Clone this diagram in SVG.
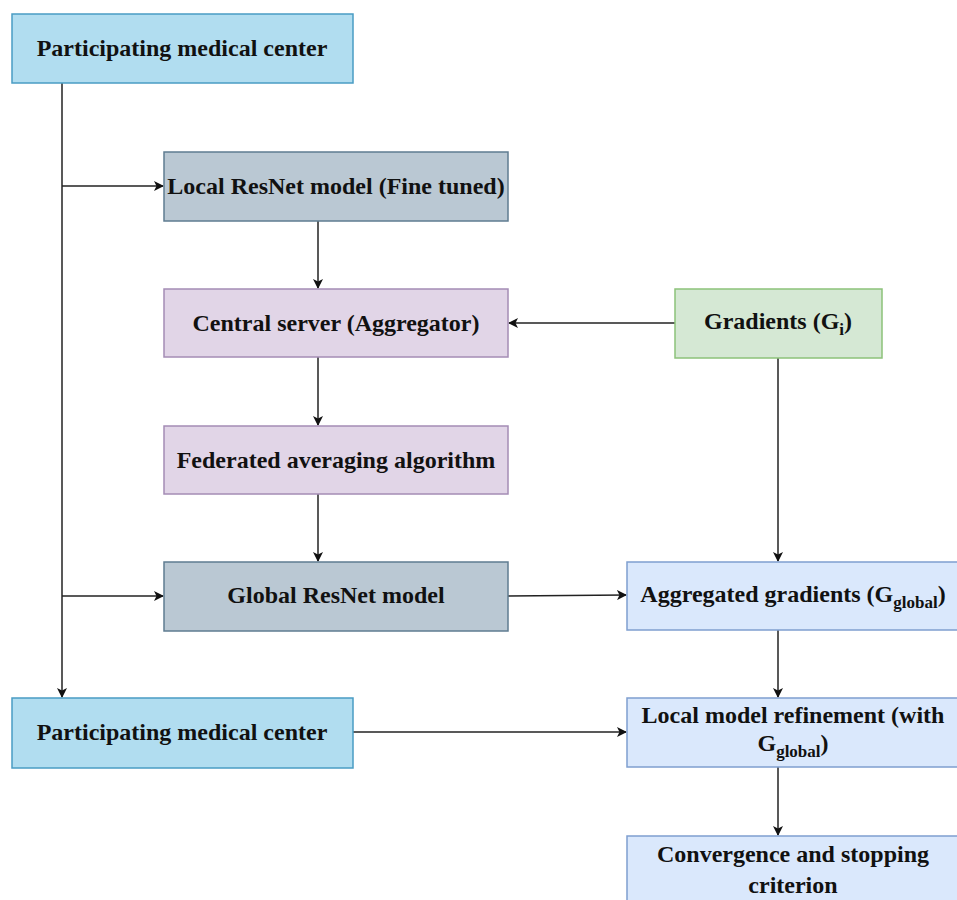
<svg xmlns="http://www.w3.org/2000/svg" width="957" height="900" viewBox="0 0 957 900">
<style>
text{font-family:"Liberation Serif","Times New Roman",serif;font-weight:bold;font-size:24px;fill:#111;text-anchor:middle}
.pmc{fill:#b1ddf0;stroke:#4a9cc4;stroke-width:1.5}
.res{fill:#bac8d3;stroke:#5f7c91;stroke-width:1.5}
.srv{fill:#e1d5e7;stroke:#a48cb5;stroke-width:1.5}
.grd{fill:#d5e8d4;stroke:#8cc27a;stroke-width:1.5}
.agg{fill:#dae8fc;stroke:#7f9fcf;stroke-width:1.5}
.sub{font-size:17px}
.c{fill:none;stroke:#222;stroke-width:1.5;marker-end:url(#ah)}
</style>
<defs>
<marker id="ah" markerWidth="10" markerHeight="10" refX="9" refY="5" orient="auto" markerUnits="userSpaceOnUse">
<path d="M0,0 L10,5 L0,10 L2.5,5 Z" fill="#111"/>
</marker>
</defs>
<rect width="957" height="900" fill="#fff"/>
<g id="connectors">
<path class="c" d="M62,83 V697"/>
<path class="c" d="M62,186 H163"/>
<path class="c" d="M62,596 H163"/>
<path class="c" d="M318,221 V288"/>
<path class="c" d="M318,357 V425"/>
<path class="c" d="M318,494 V561"/>
<path class="c" d="M675,323 H509"/>
<path class="c" d="M778,358 V561"/>
<path class="c" d="M508,596 L626,595"/>
<path class="c" d="M778,630 V697"/>
<path class="c" d="M353,732 H626"/>
<path class="c" d="M778,767 V835"/>
</g>
<g id="pmc1"><rect class="pmc" x="12" y="14" width="341" height="69"/><text x="182" y="56">Participating medical center</text></g>
<g id="local-resnet"><rect class="res" x="164" y="152" width="344" height="69"/><text x="336" y="194">Local ResNet model (Fine tuned)</text></g>
<g id="central-server"><rect class="srv" x="164" y="289" width="344" height="68"/><text x="336" y="331">Central server (Aggregator)</text></g>
<g id="fedavg"><rect class="srv" x="164" y="426" width="344" height="68"/><text x="336" y="468">Federated averaging algorithm</text></g>
<g id="global-resnet"><rect class="res" x="164" y="562" width="344" height="69"/><text x="336" y="603">Global ResNet model</text></g>
<g id="gradients"><rect class="grd" x="675" y="289" width="207" height="69"/><text x="778" y="329">Gradients (G<tspan class="sub" dy="6">i</tspan><tspan dy="-6">)</tspan></text></g>
<g id="aggregated"><rect class="agg" x="627" y="562" width="334" height="68"/><text x="793" y="602">Aggregated gradients (G<tspan class="sub" dy="6">global</tspan><tspan dy="-6">)</tspan></text></g>
<g id="pmc2"><rect class="pmc" x="12" y="698" width="341" height="70"/><text x="182" y="740">Participating medical center</text></g>
<g id="refinement"><rect class="agg" x="627" y="698" width="334" height="69"/><text x="793" y="723">Local model refinement (with</text><text x="793" y="751">G<tspan class="sub" dy="6">global</tspan><tspan dy="-6">)</tspan></text></g>
<g id="convergence"><rect class="agg" x="627" y="836" width="334" height="80"/><text x="793" y="862">Convergence and stopping</text><text x="793" y="893">criterion</text></g>
</svg>
